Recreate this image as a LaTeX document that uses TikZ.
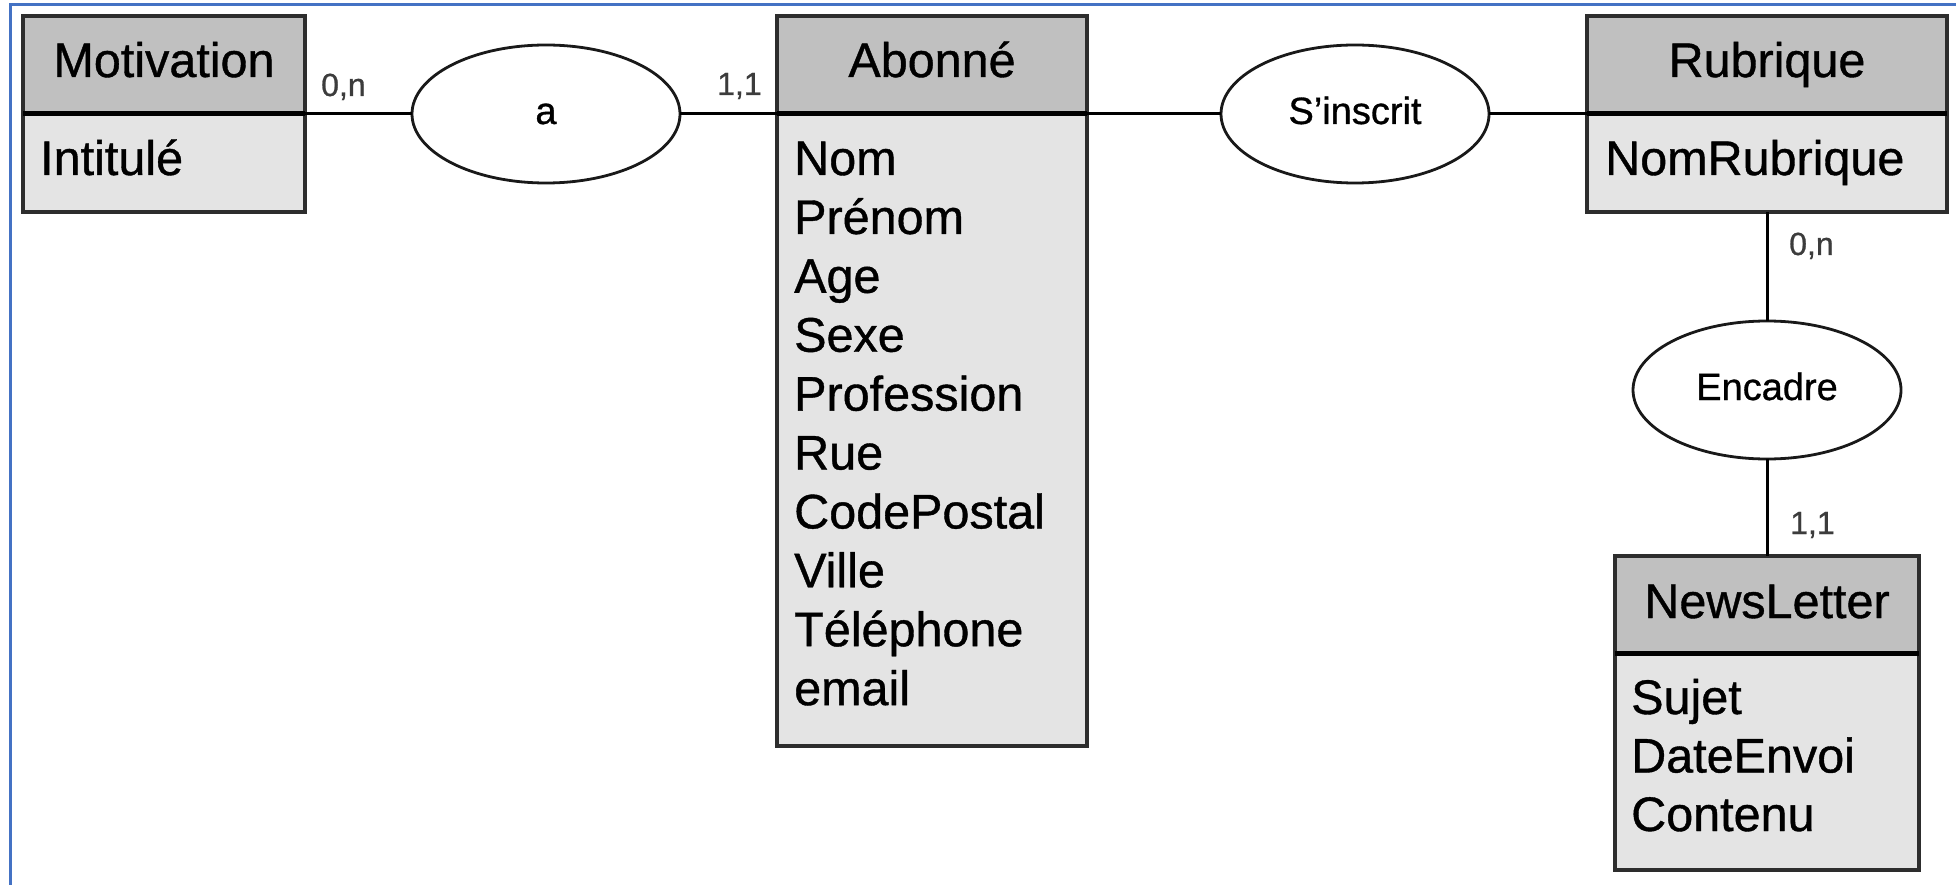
\documentclass[tikz,border=0pt]{standalone}
\usepackage{fontspec}
\setmainfont{Liberation Sans}[FakeBold=0.8]
\usetikzlibrary{shapes.geometric}

\definecolor{frameblue}{RGB}{68,114,196}
\definecolor{hdrgray}{RGB}{192,192,192}
\definecolor{bodygray}{RGB}{228,228,228}
\definecolor{edgegray}{RGB}{45,45,45}
\definecolor{cardgray}{RGB}{60,60,60}

\newcommand\entfont{\fontsize{48.5}{58}\selectfont}
\newcommand\relfont{\fontsize{38}{45}\selectfont}
\newcommand\cardfont{\fontsize{32}{38}\selectfont}

\begin{document}
\begin{tikzpicture}[x=1pt,y=-1pt,
  entbox/.style={draw=edgegray, line width=3.5pt, inner sep=0pt, outer sep=0pt, anchor=north west},
  enthead/.style={entbox, fill=hdrgray},
  entbody/.style={entbox, fill=bodygray},
  enttitle/.style={anchor=base, inner sep=0pt, font=\entfont},
  attr/.style={anchor=base west, inner sep=0pt, font=\entfont},
  divider/.style={draw=black, line width=5pt},
  rel/.style={ellipse, draw=black!90, line width=2.8pt, fill=white,
    minimum width=268pt, minimum height=138pt, inner sep=0pt, outer sep=0pt,
    font=\relfont, text height=20pt, text depth=0pt},
  conn/.style={draw=black, line width=3pt},
  card/.style={anchor=base west, inner sep=0pt, font=\cardfont, text=cardgray}
]
\useasboundingbox (0,0) rectangle (1956,885);
\fill[white] (0,0) rectangle (1956,885);

% frame edges
\draw[frameblue, line width=3pt] (10,885) -- (10,5) -- (1956,5);

% ---- relationships
\node[rel] (relA) at (546,114) {a};
\node[rel] (relS) at (1355,114) {S'inscrit};
\node[rel] (relE) at (1767,390) {Encadre};

% ---- entity: Motivation
\node[enthead, minimum width=282pt, minimum height=98pt] (motH) at (23,16) {};
\node[entbody, minimum width=282pt, minimum height=98pt] (motB) at (motH.south west) {};
\node[enttitle] (motT) at ([yshift=-61pt]motH.north) {Motivation};
\node[attr] (mot0) at ([xshift=17pt,yshift=-61pt]motB.north west) {Intitulé};

% ---- entity: Abonné
\node[enthead, minimum width=310pt, minimum height=98pt] (abH) at (777,16) {};
\node[entbody, minimum width=310pt, minimum height=632pt] (abB) at (abH.south west) {};
\node[enttitle] (abT) at ([yshift=-61pt]abH.north) {Abonné};
\foreach \t [count=\i from 0] in {Nom,Prénom,Age,Sexe,Profession,Rue,CodePostal,Ville,Téléphone,email}
  \node[attr] (ab\i) at ([xshift=17pt,yshift={-(61+58.9*\i)*1pt}]abB.north west) {\t};

% ---- entity: Rubrique
\node[enthead, minimum width=360pt, minimum height=98pt] (rubH) at (1587,16) {};
\node[entbody, minimum width=360pt, minimum height=98pt] (rubB) at (rubH.south west) {};
\node[enttitle] (rubT) at ([yshift=-61pt]rubH.north) {Rubrique};
\node[attr] (rub0) at ([xshift=18pt,yshift=-61pt]rubB.north west) {NomRubrique};

% ---- entity: NewsLetter
\node[enthead, minimum width=304pt, minimum height=97pt] (nlH) at (1615,556) {};
\node[entbody, minimum width=304pt, minimum height=217pt] (nlB) at (nlH.south west) {};
\node[enttitle] (nlT) at ([yshift=-62pt]nlH.north) {NewsLetter};
\foreach \t [count=\i from 0] in {Sujet,DateEnvoi,Contenu}
  \node[attr] (nl\i) at ([xshift=16pt,yshift={-(61+58.5*\i)*1pt}]nlB.north west) {\t};

% ---- header/body dividers
\foreach \e in {motH,abH,rubH,nlH}
  \draw[divider] (\e.south west) -- (\e.south east);

% ---- connectors
\draw[conn] (motH.south east) -- (relA.west);
\draw[conn] (relA.east) -- (abH.south west);
\draw[conn] (abH.south east) -- (relS.west);
\draw[conn] (relS.east) -- (rubH.south west);
\draw[conn] (relE.north) -- (relE.north |- rubB.south);
\draw[conn] (relE.south) -- (relE.south |- nlH.north);

% ---- cardinalities
\node[card] (cMot) at (321,96) {0,n};
\node[card] (cAb) at (717,95) {1,1};
\node[card] (cRub) at (1789,255) {0,n};
\node[card] (cNl) at (1790,534) {1,1};
\end{tikzpicture}
\end{document}
